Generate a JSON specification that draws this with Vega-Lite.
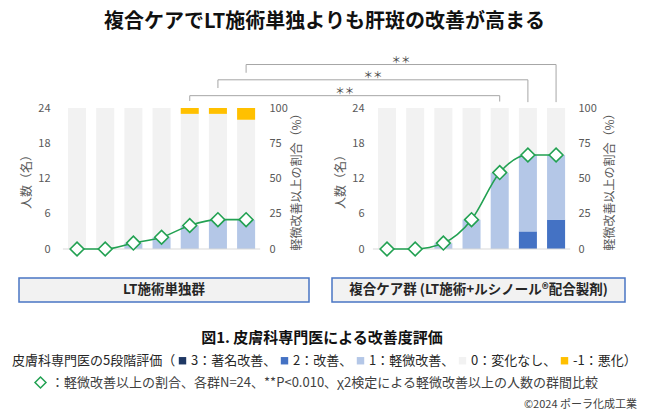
{
  "$schema": "https://vega.github.io/schema/vega-lite/v6.json",
  "background": "white",
  "padding": {"left": 12, "right": 5, "top": 11, "bottom": 2},
  "title": {
    "text": "複合ケアでLT施術単独よりも肝斑の改善が高まる",
    "fontSize": 20,
    "fontWeight": "bold",
    "color": "#111111",
    "anchor": "middle",
    "offset": 23
  },
  "datasets": {
    "bars": [
      {"panel": "L", "slot": "L0", "score": 0, "grade": "0：変化なし", "n": 24},
      {"panel": "L", "slot": "L2", "score": 0, "grade": "0：変化なし", "n": 24},
      {"panel": "L", "slot": "L4", "score": 1, "grade": "1：軽微改善", "n": 1},
      {"panel": "L", "slot": "L4", "score": 0, "grade": "0：変化なし", "n": 23},
      {"panel": "L", "slot": "L6", "score": 1, "grade": "1：軽微改善", "n": 2},
      {"panel": "L", "slot": "L6", "score": 0, "grade": "0：変化なし", "n": 22},
      {"panel": "L", "slot": "L8", "score": 1, "grade": "1：軽微改善", "n": 4},
      {"panel": "L", "slot": "L8", "score": 0, "grade": "0：変化なし", "n": 19},
      {"panel": "L", "slot": "L8", "score": -1, "grade": "-1：悪化", "n": 1},
      {"panel": "L", "slot": "L10", "score": 1, "grade": "1：軽微改善", "n": 5},
      {"panel": "L", "slot": "L10", "score": 0, "grade": "0：変化なし", "n": 18},
      {"panel": "L", "slot": "L10", "score": -1, "grade": "-1：悪化", "n": 1},
      {"panel": "L", "slot": "L12", "score": 1, "grade": "1：軽微改善", "n": 5},
      {"panel": "L", "slot": "L12", "score": 0, "grade": "0：変化なし", "n": 17},
      {"panel": "L", "slot": "L12", "score": -1, "grade": "-1：悪化", "n": 2},
      {"panel": "R", "slot": "R0", "score": 0, "grade": "0：変化なし", "n": 24},
      {"panel": "R", "slot": "R2", "score": 0, "grade": "0：変化なし", "n": 24},
      {"panel": "R", "slot": "R4", "score": 1, "grade": "1：軽微改善", "n": 1},
      {"panel": "R", "slot": "R4", "score": 0, "grade": "0：変化なし", "n": 23},
      {"panel": "R", "slot": "R6", "score": 1, "grade": "1：軽微改善", "n": 5},
      {"panel": "R", "slot": "R6", "score": 0, "grade": "0：変化なし", "n": 19},
      {"panel": "R", "slot": "R8", "score": 1, "grade": "1：軽微改善", "n": 13},
      {"panel": "R", "slot": "R8", "score": 0, "grade": "0：変化なし", "n": 11},
      {"panel": "R", "slot": "R10", "score": 2, "grade": "2：改善", "n": 3},
      {"panel": "R", "slot": "R10", "score": 1, "grade": "1：軽微改善", "n": 13},
      {"panel": "R", "slot": "R10", "score": 0, "grade": "0：変化なし", "n": 8},
      {"panel": "R", "slot": "R12", "score": 2, "grade": "2：改善", "n": 5},
      {"panel": "R", "slot": "R12", "score": 1, "grade": "1：軽微改善", "n": 11},
      {"panel": "R", "slot": "R12", "score": 0, "grade": "0：変化なし", "n": 8}
    ],
    "pct": [
      {"panel": "L", "slot": "L0", "pct": 0},
      {"panel": "L", "slot": "L2", "pct": 0},
      {"panel": "L", "slot": "L4", "pct": 4.2},
      {"panel": "L", "slot": "L6", "pct": 8.3},
      {"panel": "L", "slot": "L8", "pct": 16.7},
      {"panel": "L", "slot": "L10", "pct": 20.8},
      {"panel": "L", "slot": "L12", "pct": 20.8},
      {"panel": "R", "slot": "R0", "pct": 0},
      {"panel": "R", "slot": "R2", "pct": 0},
      {"panel": "R", "slot": "R4", "pct": 4.2},
      {"panel": "R", "slot": "R6", "pct": 20.8},
      {"panel": "R", "slot": "R8", "pct": 54.2},
      {"panel": "R", "slot": "R10", "pct": 66.7},
      {"panel": "R", "slot": "R12", "pct": 66.7}
    ],
    "brackets": [
      {"from": "L8", "to": "R8", "mid": "g3", "level": 26.1, "leftEnd": 25.2, "rightEnd": 25.1},
      {"from": "L10", "to": "R10", "mid": "g4", "level": 28.8, "leftEnd": 27.4, "rightEnd": 25.0},
      {"from": "L12", "to": "R12", "mid": "R0", "level": 31.4, "leftEnd": 30.0, "rightEnd": 25.0}
    ],
    "baselines": [
      {"from": "L0", "to": "L12"},
      {"from": "R0", "to": "R12"}
    ]
  },
  "spacing": 17,
  "vconcat": [
    {
      "width": 604,
      "height": 141,
      "encoding": {
        "x": {
          "field": "slot",
          "type": "nominal",
          "scale": {
            "domain": ["s1", "L0", "L2", "L4", "L6", "L8", "L10", "L12", "g1", "g2", "g3", "g4", "R0", "R2", "R4", "R6", "R8", "R10", "R12", "s2"],
            "paddingInner": 0.36,
            "paddingOuter": 0.897,
            "align": 0.412
          },
          "axis": {
            "title": null,
            "labelAngle": 0,
            "labelPadding": 10,
            "labelExpr": "indexof(['L', 'R'], substring(datum.value, 0, 1)) < 0 ? '' : substring(datum.value, 1) + '週'"
          }
        }
      },
      "layer": [
        {
          "data": {"name": "bars"},
          "transform": [{"filter": "datum.panel === 'L'"}],
          "mark": {"type": "bar"},
          "encoding": {
            "y": {
              "field": "n",
              "type": "quantitative",
              "stack": "zero",
              "scale": {"domain": [0, 24]},
              "axis": {"orient": "left", "offset": -44, "values": [0, 6, 12, 18, 24], "title": "人数（名）", "labelPadding": 13, "titlePadding": 4}
            },
            "color": {
              "field": "grade",
              "type": "nominal",
              "scale": {
                "domain": ["3：著名改善", "2：改善", "1：軽微改善", "0：変化なし", "-1：悪化"],
                "range": ["#1F3864", "#4472C4", "#B4C7E7", "#F2F2F2", "#FFC000"]
              },
              "legend": {
                "orient": "none",
                "legendX": -7,
                "legendY": 246,
                "direction": "horizontal",
                "title": "皮膚科専門医の5段階評価（",
                "titleOrient": "left",
                "titleFontSize": 13,
                "titleFontWeight": "normal",
                "titleColor": "#262626",
                "titlePadding": 0,
                "titleLimit": 300,
                "labelFontSize": 13,
                "labelColor": "#262626",
                "labelOffset": 2,
                "labelLimit": 200,
                "columnPadding": 0,
                "symbolType": "square",
                "symbolSize": 55,
                "labelExpr": "datum.label + (datum.label === '-1：悪化' ? '）' : '、')",
                "encode": {
                  "symbols": {
                    "update": {
                      "fill": {
                        "condition": {"test": "datum.value === '0：変化なし'", "value": "#A6A6A6"},
                        "value": {"expr": "scale('color', datum.value)"}
                      },
                      "stroke": {"value": "transparent"},
                      "opacity": {"value": 1}
                    }
                  }
                }
              }
            },
            "order": {"field": "score", "type": "quantitative", "sort": "descending"}
          }
        },
        {
          "data": {"name": "bars"},
          "transform": [{"filter": "datum.panel === 'R'"}],
          "mark": {"type": "bar"},
          "encoding": {
            "y": {
              "field": "n",
              "type": "quantitative",
              "stack": "zero",
              "scale": {"domain": [0, 24]},
              "axis": {"orient": "left", "offset": -358, "values": [0, 6, 12, 18, 24], "title": "人数（名）", "labelPadding": 13, "titlePadding": 4}
            },
            "color": {"field": "grade", "type": "nominal"},
            "order": {"field": "score", "type": "quantitative", "sort": "descending"}
          }
        },
        {
          "data": {"name": "baselines"},
          "mark": {"type": "rule", "color": "#D9D9D9", "strokeWidth": 1},
          "encoding": {
            "x": {"field": "from", "type": "nominal", "bandPosition": -0.28125, "axis": null},
            "x2": {"field": "to", "bandPosition": 1.28125},
            "y": {"datum": 0, "type": "quantitative", "scale": {"domain": [0, 24]}, "axis": null}
          }
        },
        {
          "data": {"name": "pct"},
          "transform": [{"filter": "datum.panel === 'L'"}],
          "mark": {"type": "line", "color": "#22A152", "strokeWidth": 1.6, "interpolate": "monotone"},
          "encoding": {
            "y": {
              "field": "pct",
              "type": "quantitative",
              "scale": {"domain": [0, 100]},
              "axis": {"orient": "right", "offset": -360, "values": [0, 25, 50, 75, 100], "title": "軽微改善以上の割合（%）", "titleAngle": -90, "titleBaseline": "top", "labelPadding": 6, "titlePadding": 4}
            }
          }
        },
        {
          "data": {"name": "pct"},
          "transform": [{"filter": "datum.panel === 'R'"}],
          "mark": {"type": "line", "color": "#22A152", "strokeWidth": 1.6, "interpolate": "monotone"},
          "encoding": {
            "y": {
              "field": "pct",
              "type": "quantitative",
              "scale": {"domain": [0, 100]},
              "axis": {"orient": "right", "offset": -53, "values": [0, 25, 50, 75, 100], "title": "軽微改善以上の割合（%）", "titleAngle": -90, "titleBaseline": "top", "labelPadding": 8, "titlePadding": 8}
            }
          }
        },
        {
          "data": {"name": "pct"},
          "mark": {"type": "point", "filled": true, "fill": "white", "stroke": "#22A152", "strokeWidth": 1.6, "size": 190, "opacity": 1},
          "encoding": {
            "y": {"field": "pct", "type": "quantitative", "scale": {"domain": [0, 100]}, "axis": null},
            "shape": {
              "datum": "：軽微改善以上の割合、各群N=24、**P<0.010、χ2検定による軽微改善以上の人数の群間比較",
              "type": "nominal",
              "scale": {"range": ["diamond"]},
              "legend": {
                "orient": "none",
                "legendX": 15,
                "legendY": 268,
                "title": null,
                "labelFontSize": 13,
                "labelColor": "#404040",
                "labelLimit": 700,
                "labelOffset": 4,
                "symbolSize": 120,
                "encode": {
                  "symbols": {
                    "update": {
                      "fill": {"value": "white"},
                      "stroke": {"value": "#3DBB6D"},
                      "strokeWidth": {"value": 1.2},
                      "opacity": {"value": 1}
                    }
                  }
                }
              }
            }
          }
        },
        {
          "data": {"name": "brackets"},
          "mark": {"type": "rule", "color": "#A6A6A6", "strokeWidth": 1},
          "encoding": {
            "x": {"field": "from", "type": "nominal", "axis": null},
            "x2": {"field": "to"},
            "y": {"field": "level", "type": "quantitative", "scale": {"domain": [0, 24]}, "axis": null}
          }
        },
        {
          "data": {"name": "brackets"},
          "mark": {"type": "rule", "color": "#A6A6A6", "strokeWidth": 1},
          "encoding": {
            "x": {"field": "from", "type": "nominal", "axis": null},
            "y": {"field": "level", "type": "quantitative", "scale": {"domain": [0, 24]}, "axis": null},
            "y2": {"field": "leftEnd"}
          }
        },
        {
          "data": {"name": "brackets"},
          "mark": {"type": "rule", "color": "#A6A6A6", "strokeWidth": 1},
          "encoding": {
            "x": {"field": "to", "type": "nominal", "axis": null},
            "y": {"field": "level", "type": "quantitative", "scale": {"domain": [0, 24]}, "axis": null},
            "y2": {"field": "rightEnd"}
          }
        },
        {
          "data": {"name": "brackets"},
          "mark": {"type": "text", "fontSize": 9.5, "color": "#404040", "baseline": "middle", "dy": -5},
          "encoding": {
            "x": {"field": "mid", "type": "nominal", "bandPosition": 1.28125, "axis": null},
            "y": {"field": "level", "type": "quantitative", "scale": {"domain": [0, 24]}, "axis": null},
            "text": {"value": "＊＊"}
          }
        }
      ],
      "resolve": {"scale": {"y": "independent"}, "axis": {"y": "independent"}}
    },
    {
      "spacing": 21,
      "title": {
        "text": "図1. 皮膚科専門医による改善度評価",
        "orient": "bottom",
        "anchor": "middle",
        "offset": 28,
        "fontSize": 15,
        "fontWeight": "bold",
        "color": "#111111"
      },
      "hconcat": [
        {
          "width": 290,
          "height": 24,
          "view": {"fill": "#F2F2F2", "stroke": "#4A76C4", "strokeWidth": 1.5},
          "data": {"values": [{"group": "LT施術単独群"}]},
          "mark": {"type": "text", "fontSize": 13.5, "fontWeight": "bold", "color": "#262626", "baseline": "middle"},
          "encoding": {"text": {"field": "group"}}
        },
        {
          "width": 293,
          "height": 24,
          "view": {"fill": "#F2F2F2", "stroke": "#4A76C4", "strokeWidth": 1.5},
          "data": {"values": [{"group": "複合ケア群 (LT施術+ルシノール®配合製剤)"}]},
          "mark": {"type": "text", "fontSize": 13.5, "fontWeight": "bold", "color": "#262626", "baseline": "middle"},
          "encoding": {"text": {"field": "group"}}
        }
      ]
    },
    {
      "width": 618,
      "height": 47,
      "data": {"values": [{"note": "©2024  ポーラ化成工業"}]},
      "mark": {"type": "text", "align": "right", "baseline": "bottom", "fontSize": 11, "color": "#404040"},
      "encoding": {
        "text": {"field": "note"},
        "x": {"value": "width"},
        "y": {"value": "height"}
      }
    }
  ],
  "resolve": {
    "scale": {"color": "shared", "shape": "shared"},
    "legend": {"color": "shared", "shape": "shared"}
  },
  "config": {
    "font": "Noto Sans CJK JP",
    "view": {"stroke": null},
    "axis": {
      "labelColor": "#595959",
      "titleColor": "#595959",
      "labelFontSize": 11,
      "titleFontSize": 12,
      "titleFontWeight": "normal",
      "domain": false,
      "ticks": false,
      "grid": false
    }
  }
}
